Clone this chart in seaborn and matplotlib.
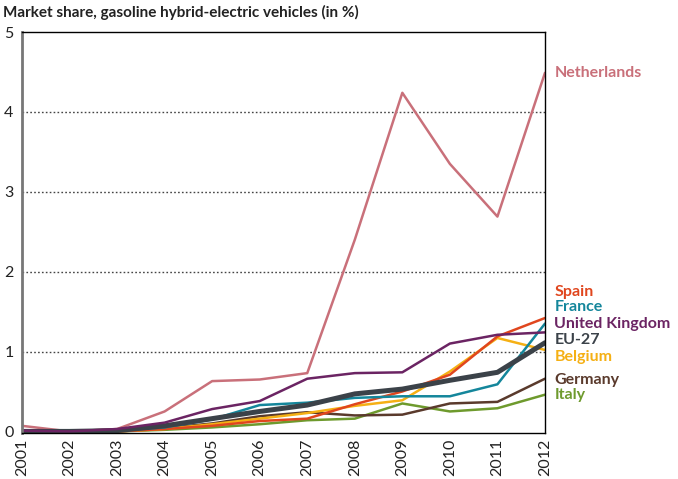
import numpy as np
import pandas as pd
import seaborn as sns
from matplotlib import pyplot as plt

# data (market share in %)
years = list(range(2001, 2013))
netherlands = [0.07, 0.0, 0.03, 0.25, 0.63, 0.65, 0.73, 2.40, 4.24, 3.35, 2.69, 4.49]
spain = [0.0, 0.0, 0.0, 0.03, 0.07, 0.13, 0.16, 0.34, 0.50, 0.71, 1.19, 1.42]
france = [0.0, 0.0, 0.01, 0.05, 0.15, 0.33, 0.36, 0.42, 0.44, 0.44, 0.59, 1.35]
united_kingdom = [0.01, 0.0, 0.03, 0.11, 0.28, 0.38, 0.66, 0.73, 0.74, 1.10, 1.21, 1.24]
eu27 = [0.0, 0.0, 0.01, 0.07, 0.16, 0.25, 0.33, 0.47, 0.53, 0.64, 0.74, 1.11]
belgium = [0.0, 0.0, 0.0, 0.03, 0.09, 0.16, 0.23, 0.32, 0.39, 0.75, 1.17, 1.02]
germany = [0.0, 0.0, 0.01, 0.04, 0.10, 0.19, 0.24, 0.20, 0.21, 0.35, 0.37, 0.66]
italy = [0.0, 0.0, 0.0, 0.02, 0.05, 0.09, 0.14, 0.16, 0.35, 0.25, 0.29, 0.46]

series = {
    'Netherlands': netherlands,
    'Italy': italy,
    'Germany': germany,
    'Belgium': belgium,
    'Spain': spain,
    'France': france,
    'EU-27': eu27,
    'United Kingdom': united_kingdom,
}
colors = {
    'Netherlands': '#C9707A',
    'Spain': '#E0461E',
    'France': '#14869B',
    'United Kingdom': '#6B2463',
    'EU-27': '#3B4249',
    'Belgium': '#F5B014',
    'Germany': '#5A3A2C',
    'Italy': '#6E9A2D',
}
# label heights on the right side (data units)
label_y = {
    'Netherlands': 4.49,
    'Spain': 1.75,
    'France': 1.56,
    'United Kingdom': 1.35,
    'EU-27': 1.14,
    'Belgium': 0.93,
    'Germany': 0.65,
    'Italy': 0.45,
}

df = pd.DataFrame([(k, y, v) for k, vals in series.items() for y, v in zip(years, vals)],
                  columns=['country', 'year', 'share'])

sns.set_style('white')
plt.rcParams['font.family'] = ['Lato', 'DejaVu Sans']

fig = plt.figure(figsize=(6.78, 4.79), dpi=100)
ax = fig.add_axes([0.0324, 0.096, 0.7714, 0.837])

for name in series:
    sub = df[df.country == name]
    sns.lineplot(data=sub, x='year', y='share', ax=ax, color=colors[name],
                 linewidth=3.6 if name == 'EU-27' else 1.8, legend=False)

for name, yv in label_y.items():
    ax.text(2012.2, yv, name, color=colors[name], fontsize=11.5, fontweight='bold',
            va='center', ha='left', clip_on=False)

ax.set_xlim(2001, 2012)
ax.set_ylim(-0.02, 5)
ax.set_xticks(years)
ax.set_xticklabels([str(y) for y in years], rotation=90, fontsize=11.5, color='#222222')
ax.set_yticks([0, 1, 2, 3, 4, 5])
ax.set_yticklabels(['0', '1', '2', '3', '4', '5'], fontsize=11.5, color='#222222')
ax.tick_params(axis='x', direction='in', length=8, width=1, color='black', pad=4)
ax.tick_params(axis='y', length=0, pad=6)
for v in [1, 2, 3, 4]:
    ax.axhline(v, color='#444444', linestyle=(0, (1.2, 1.6)), linewidth=1, zorder=0)

ax.spines['left'].set_color('#777777')
ax.spines['left'].set_linewidth(2)
for s in ['top', 'right', 'bottom']:
    ax.spines[s].set_color('black')
    ax.spines[s].set_linewidth(1)
ax.set_xlabel('')
ax.set_ylabel('')

fig.text(0.004, 0.975, 'Market share, gasoline hybrid-electric vehicles (in %)',
         fontsize=11, fontweight='bold', color='#222222', va='center', ha='left')

fig.savefig('out.png', dpi=100)
